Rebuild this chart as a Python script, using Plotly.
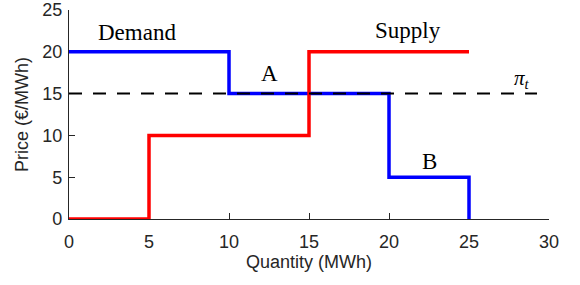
import plotly.graph_objects as go

# Data
supply_q = [0, 5, 5, 15, 15, 25]
supply_p = [0, 0, 10, 10, 20, 20]
demand_q = [0, 10, 10, 20, 20, 25, 25]
demand_p = [20, 20, 15, 15, 5, 5, 0]
price_q = [0, 29.25]
price_p = [15, 15]
x_ticks = [0, 5, 10, 15, 20, 25, 30]
y_ticks = [0, 5, 10, 15, 20, 25]

axc = "#262626"
fig = go.Figure()
fig.add_trace(go.Scatter(x=demand_q, y=demand_p, mode="lines",
                         line=dict(color="#0000ff", width=3.5), cliponaxis=False))
fig.add_trace(go.Scatter(x=supply_q, y=supply_p, mode="lines",
                         line=dict(color="#ff0000", width=3.5), cliponaxis=False))
fig.add_trace(go.Scatter(x=price_q, y=price_p, mode="lines",
                         line=dict(color="black", width=2, dash="13px,11px"), cliponaxis=False))

serif = dict(family="Liberation Serif", size=23, color="black")
fig.add_annotation(x=4.25, y=22.3, text="Demand", showarrow=False, font=serif)
fig.add_annotation(x=21.2, y=22.5, text="Supply", showarrow=False, font=serif)
fig.add_annotation(x=12.56, y=17.4, text="A", showarrow=False, font=serif)
fig.add_annotation(x=22.56, y=6.9, text="B", showarrow=False, font=serif)
fig.add_annotation(x=28.3, y=16.8, text="<i>π<sub>t</sub></i>", showarrow=False,
                   font=dict(family="Liberation Serif", size=21, color="black"))

fig.update_layout(
    width=580, height=285,
    margin=dict(l=69, r=31, t=10, b=66),
    plot_bgcolor="white", paper_bgcolor="white",
    showlegend=False,
    font=dict(family="Liberation Sans", size=18, color=axc),
)
fig.update_xaxes(range=[0, 30], tickvals=x_ticks, ticks="inside", ticklen=6,
                 tickcolor=axc, showline=True, linecolor=axc, linewidth=1.2,
                 showgrid=False, zeroline=False, layer="below traces", automargin=False,
                 ticklabelstandoff=6, ticklabeloverflow="allow",
                 title=dict(text="Quantity (MWh)", standoff=3, font=dict(size=18)),
                 tickfont=dict(size=18))
fig.update_yaxes(range=[0, 25], tickvals=y_ticks, ticks="inside", ticklen=6,
                 tickcolor=axc, showline=True, linecolor=axc, linewidth=1.2,
                 showgrid=False, zeroline=False, layer="below traces", automargin=False,
                 ticklabelstandoff=2, ticklabeloverflow="allow",
                 title=dict(text="Price (€/MWh)", standoff=8, font=dict(size=18)),
                 tickfont=dict(size=18))
fig.write_html("out.html", config={"displayModeBar": False},
               post_script="document.body.style.margin='0';")
